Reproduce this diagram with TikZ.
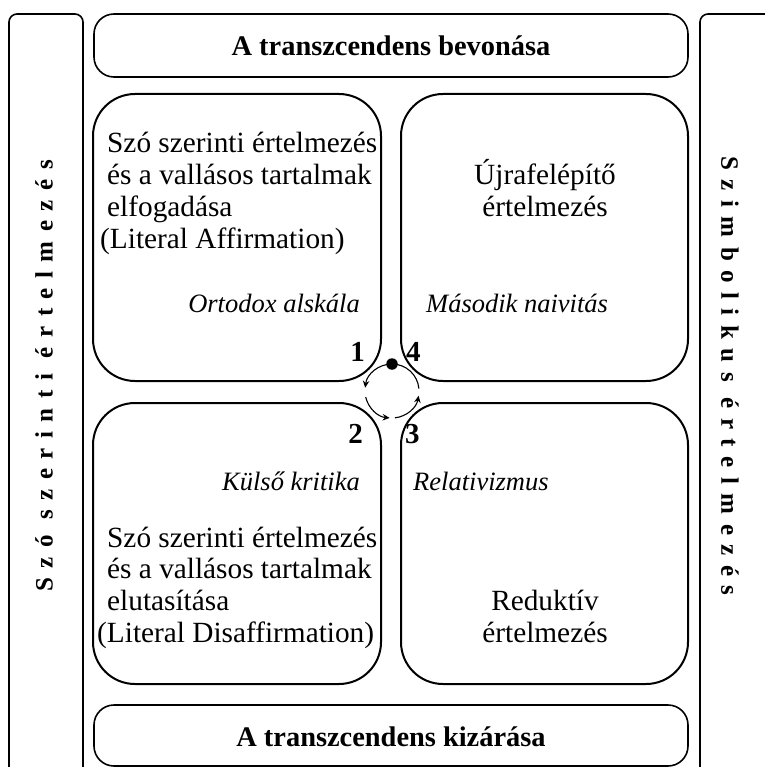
\documentclass[tikz,border=0pt]{standalone}
\usepackage{fontspec}
\setmainfont{Liberation Serif}
\usetikzlibrary{arrows.meta}
\begin{document}
\begin{tikzpicture}[x=1pt,y=-1pt,
  quad/.style={draw,line width=2pt,rounded corners=42pt,inner sep=0pt,outer sep=0pt,anchor=north west},
  band/.style={draw,line width=1.6pt,rounded corners=20pt,inner sep=0pt,outer sep=0pt,anchor=north west},
  sidebox/.style={draw,line width=1.6pt,rounded corners=8pt,inner sep=0pt,outer sep=0pt,anchor=north west},
  body/.style={font=\fontsize{29.3}{33}\selectfont,inner sep=0pt},
  itl/.style={font=\itshape\fontsize{26.5}{30}\selectfont,inner sep=0pt},
  num/.style={font=\bfseries\fontsize{29}{32}\selectfont,inner sep=0pt},
  bandtext/.style={font=\bfseries\fontsize{28.4}{32}\selectfont,inner sep=0pt,anchor=base},
  sidetext/.style={font=\bfseries\fontsize{25}{28}\selectfont\addfontfeatures{LetterSpace=38},inner sep=0pt},
  cyc/.style={line width=1.1pt,-{Stealth[length=7pt,width=6.5pt]}},
  cycplain/.style={line width=1.1pt}
]
\useasboundingbox (0,0) rectangle (764,767);

% side boxes
\node[sidebox,minimum width=74pt,minimum height=775pt] (lside) at (9,14) {};
\node[sidebox,minimum width=85pt,minimum height=775pt] (rside) at (700,14) {};
\node[sidetext,rotate=90] (ltext) at (44,376) {Szó szerinti értelmezés};
\node[sidetext,rotate=-90] (rtext) at (730,376) {Szimbolikus értelmezés};

% top / bottom bands
\node[band,minimum width=594pt,minimum height=63pt] (top) at (94,14) {};
\node[band,minimum width=594pt,minimum height=61pt] (bot) at (94,705) {};
\node[bandtext] (toptext) at (391,56) {A transzcendens bevonása};
\node[bandtext] (bottext) at (391,746) {A transzcendens kizárása};

% quadrants
\node[quad,minimum width=288pt,minimum height=287pt] (q1) at (93,94) {};
\node[quad,minimum width=287pt,minimum height=287pt] (q4) at (401,94) {};
\node[quad,minimum width=288pt,minimum height=281pt] (q2) at (93,403) {};
\node[quad,minimum width=287pt,minimum height=281pt] (q3) at (401,403) {};

% quadrant 1 text
\node[body,anchor=base west] (a1) at (107,153) {Szó szerinti értelmezés};
\node[body,anchor=base west] (a2) at (107,184.7) {és a vallásos tartalmak};
\node[body,anchor=base west] (a3) at (107,216.4) {elfogadása};
\node[body,anchor=base west] (a4) at (100,248) {(Literal Affirmation)};
\node[itl,anchor=base east] (ortodox) at (360,312) {Ortodox alskála};
\node[num,anchor=base east] (n1) at (365,361) {1};

% quadrant 4 text
\node[body,anchor=base] (d1) at (545,184.7) {Újrafelépítő};
\node[body,anchor=base] (d2) at (545,216.4) {értelmezés};
\node[itl,anchor=base west] (masodik) at (426,312) {Második naivitás};
\node[num,anchor=base west] (n4) at (406,361) {4};

% quadrant 2 text
\node[num,anchor=base east] (n2) at (363,443) {2};
\node[itl,anchor=base east] (kulso) at (360,490) {Külső kritika};
\node[body,anchor=base west] (b1) at (107,547) {Szó szerinti értelmezés};
\node[body,anchor=base west] (b2) at (107,578.5) {és a vallásos tartalmak};
\node[body,anchor=base west] (b3) at (107,610) {elutasítása};
\node[body,anchor=base west] (b4) at (97,642) {(Literal Disaffirmation)};

% quadrant 3 text
\node[num,anchor=base west] (n3) at (405,443) {3};
\node[itl,anchor=base west] (relativ) at (413,490) {Relativizmus};
\node[body,anchor=base] (c1) at (545,610) {Reduktív};
\node[body,anchor=base] (c2) at (545,642) {értelmezés};

% cycle
\coordinate (cc) at (392,391);
\node[circle,fill=black,inner sep=0pt,minimum size=11.5pt] (dot) at ([shift={(90:27pt)}]cc) {};
\draw[cyc] ([shift={(90:27pt)}]cc) arc[start angle=90,end angle=173,radius=27pt];
\draw[cyc] ([shift={(193:27pt)}]cc) arc[start angle=193,end angle=265,radius=27pt];
\draw[cyc] ([shift={(276:27pt)}]cc) arc[start angle=276,end angle=350,radius=27pt];
\draw[cycplain] ([shift={(5:27pt)}]cc) arc[start angle=5,end angle=90,radius=27pt];
\end{tikzpicture}
\end{document}
